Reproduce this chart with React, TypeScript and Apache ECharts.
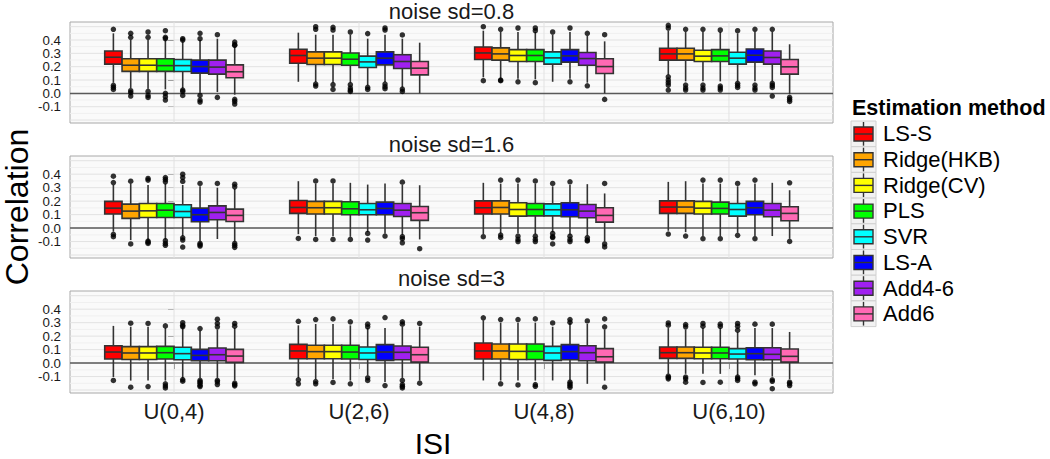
import React, { useEffect, useRef } from "react";
import * as echarts from "echarts";

const methods = ["LS-S", "Ridge(HKB)", "Ridge(CV)", "PLS", "SVR", "LS-A", "Add4-6", "Add6"];
const methodColors = ["#FF0000", "#FFA500", "#FFFF00", "#00FF00", "#00FFFF", "#0000FF", "#A020F0", "#FF69B4"];
const isiCategories = ["U(0,4)", "U(2,6)", "U(4,8)", "U(6,10)"];
const panelTitles = ["noise sd=0.8", "noise sd=1.6", "noise sd=3"];
const yTicks = [-0.1, 0, 0.1, 0.2, 0.3, 0.4];
const yGridMajor = [-0.2, -0.1, 0, 0.1, 0.2, 0.3, 0.4, 0.5];
const yGridMinor = [-0.15, -0.05, 0.05, 0.15, 0.25, 0.35, 0.45];

// [low whisker, q1, median, q3, high whisker], category-major, method-minor
const sd08Box = [
  [0.08, 0.219, 0.271, 0.318, 0.45], [0.04, 0.165, 0.211, 0.259, 0.40], [0.035, 0.165, 0.211, 0.259, 0.40], [0.03, 0.165, 0.208, 0.259, 0.40],
  [0.04, 0.164, 0.208, 0.254, 0.39], [0.005, 0.152, 0.201, 0.249, 0.40], [0.01, 0.144, 0.197, 0.249, 0.41], [-0.01, 0.117, 0.162, 0.214, 0.35],
  [0.087, 0.226, 0.284, 0.331, 0.455], [0.085, 0.216, 0.264, 0.311, 0.44], [0.08, 0.216, 0.264, 0.311, 0.44], [0.08, 0.211, 0.256, 0.303, 0.44],
  [0.06, 0.194, 0.236, 0.279, 0.41], [0.085, 0.214, 0.264, 0.311, 0.44], [0.045, 0.187, 0.239, 0.289, 0.41], [0.0, 0.139, 0.189, 0.239, 0.38],
  [0.12, 0.254, 0.303, 0.348, 0.47], [0.115, 0.249, 0.296, 0.341, 0.46], [0.11, 0.239, 0.284, 0.328, 0.46], [0.105, 0.239, 0.284, 0.328, 0.46],
  [0.087, 0.219, 0.266, 0.311, 0.44], [0.11, 0.234, 0.281, 0.328, 0.46], [0.08, 0.211, 0.261, 0.306, 0.43], [0.0, 0.149, 0.201, 0.259, 0.39],
  [0.14, 0.249, 0.296, 0.338, 0.47], [0.09, 0.249, 0.296, 0.338, 0.46], [0.09, 0.239, 0.279, 0.323, 0.46], [0.09, 0.239, 0.281, 0.328, 0.46],
  [0.09, 0.219, 0.264, 0.308, 0.45], [0.09, 0.234, 0.286, 0.333, 0.46], [0.09, 0.219, 0.269, 0.318, 0.46], [-0.005, 0.144, 0.199, 0.254, 0.368],
];
const sd08Out = [
  [0.48, 0.06, 0.045, 0.03], [0.45, 0.42, 0.02, 0.005, -0.02], [0.46, 0.42, 0.015, -0.015, -0.03], [0.47, 0.42, 0.41, 0.0, -0.025, -0.05],
  [0.41, 0.40, 0.025, 0.015, -0.015], [0.45, 0.41, -0.015, -0.05, -0.065], [0.44, -0.03], [0.385, 0.365, 0.36, -0.045, -0.06, -0.08],
  [], [0.5, 0.48, 0.07, 0.055], [0.495, 0.475, 0.065, 0.03], [0.46, 0.065, 0.04, 0.025, 0.015],
  [0.448, 0.045, 0.03], [0.49, 0.475, 0.07, 0.05, 0.035], [0.438, 0.032, 0.015], [],
  [0.5, 0.095], [0.48, 0.1, 0.095], [0.49, 0.087], [0.49, 0.47, 0.08],
  [0.46], [0.49, 0.087], [0.45, 0.057], [0.44, -0.045],
  [0.51, 0.49, 0.124, 0.1, 0.08, 0.062, 0.025], [0.48, 0.062, 0.04, 0.025], [0.48, 0.062, 0.04, 0.025], [0.475, 0.055, 0.04, 0.025],
  [0.47, 0.075, 0.06, 0.045], [0.48, 0.062, 0.04, 0.025], [0.48, 0.075, 0.06, 0.045, -0.02], [-0.03, -0.045, -0.06],
];

const sd16Box = [
  [-0.027, 0.104, 0.148, 0.198, 0.32], [-0.089, 0.072, 0.126, 0.178, 0.33], [-0.09, 0.079, 0.128, 0.183, 0.32], [-0.085, 0.079, 0.133, 0.183, 0.33],
  [-0.06, 0.079, 0.123, 0.173, 0.32], [-0.1, 0.047, 0.099, 0.148, 0.31], [-0.081, 0.062, 0.116, 0.165, 0.30], [-0.1, 0.049, 0.094, 0.141, 0.29],
  [-0.045, 0.109, 0.153, 0.205, 0.348], [-0.06, 0.104, 0.151, 0.198, 0.33], [-0.06, 0.104, 0.151, 0.198, 0.33], [-0.065, 0.099, 0.143, 0.195, 0.336],
  [-0.03, 0.099, 0.136, 0.183, 0.323], [-0.04, 0.099, 0.146, 0.193, 0.33], [-0.05, 0.086, 0.133, 0.183, 0.32], [-0.084, 0.057, 0.114, 0.16, 0.318],
  [-0.045, 0.104, 0.151, 0.202, 0.336], [-0.04, 0.104, 0.153, 0.202, 0.33], [-0.04, 0.089, 0.138, 0.188, 0.33], [-0.045, 0.091, 0.138, 0.183, 0.33],
  [-0.03, 0.091, 0.136, 0.18, 0.31], [-0.05, 0.084, 0.136, 0.188, 0.32], [-0.055, 0.077, 0.126, 0.175, 0.326], [-0.1, 0.044, 0.094, 0.151, 0.257],
  [-0.02, 0.109, 0.156, 0.202, 0.343], [-0.03, 0.109, 0.156, 0.202, 0.348], [-0.06, 0.104, 0.148, 0.198, 0.33], [-0.06, 0.104, 0.146, 0.193, 0.33],
  [-0.035, 0.089, 0.138, 0.183, 0.31], [-0.06, 0.099, 0.151, 0.198, 0.33], [-0.059, 0.084, 0.133, 0.183, 0.336], [-0.08, 0.054, 0.109, 0.158, 0.281],
];
const sd16Out = [
  [0.385, 0.338, -0.047, -0.064], [0.348, -0.118], [0.368, 0.356, -0.096, -0.105, -0.114], [0.375, 0.36, 0.343, -0.094, -0.114, -0.128],
  [0.4, 0.375, 0.346, -0.072, -0.089, -0.141], [0.331, -0.114, -0.124, -0.133], [0.331], [0.326, 0.306, -0.114, -0.128, -0.143],
  [-0.077], [0.35, -0.084], [0.35, -0.084], [-0.084],
  [-0.04, -0.089], [-0.059], [0.341, -0.064, -0.079, -0.109], [-0.153],
  [-0.064], [0.356, -0.052, -0.069], [0.356, -0.06, -0.084, -0.1], [0.35, -0.06, -0.084, -0.1],
  [0.331, -0.04, -0.064, -0.07, -0.118], [0.343, -0.06, -0.084, -0.1], [-0.07, -0.089, -0.095], [0.331, -0.118, -0.14],
  [-0.044], [-0.059], [0.356, -0.079], [0.356, -0.079],
  [0.331, -0.054], [0.356, -0.079], [], [0.336, -0.099],
];

const sd3Box = [
  [-0.104, 0.03, 0.082, 0.129, 0.276], [-0.13, 0.027, 0.075, 0.122, 0.27], [-0.13, 0.027, 0.075, 0.122, 0.27], [-0.13, 0.03, 0.077, 0.124, 0.26],
  [-0.11, 0.025, 0.07, 0.117, 0.26], [-0.11, 0.017, 0.057, 0.102, 0.24], [-0.11, 0.017, 0.062, 0.112, 0.25], [-0.13, 0.005, 0.052, 0.102, 0.26],
  [-0.11, 0.032, 0.09, 0.139, 0.28], [-0.12, 0.032, 0.085, 0.132, 0.29], [-0.12, 0.032, 0.085, 0.132, 0.29], [-0.13, 0.03, 0.082, 0.132, 0.28],
  [-0.09, 0.027, 0.075, 0.119, 0.26], [-0.14, 0.02, 0.082, 0.137, 0.26], [-0.11, 0.025, 0.08, 0.127, 0.27], [-0.13, 0.007, 0.062, 0.117, 0.27],
  [-0.129, 0.03, 0.09, 0.149, 0.318], [-0.13, 0.03, 0.09, 0.142, 0.3], [-0.13, 0.027, 0.087, 0.142, 0.3], [-0.13, 0.027, 0.087, 0.142, 0.3],
  [-0.129, 0.02, 0.075, 0.124, 0.27], [-0.13, 0.025, 0.085, 0.137, 0.3], [-0.154, 0.017, 0.077, 0.129, 0.29], [-0.13, 0.007, 0.047, 0.107, 0.25],
  [-0.08, 0.035, 0.077, 0.119, 0.26], [-0.08, 0.035, 0.077, 0.119, 0.25], [-0.08, 0.032, 0.075, 0.117, 0.26], [-0.08, 0.032, 0.075, 0.117, 0.26],
  [-0.09, 0.03, 0.067, 0.107, 0.23], [-0.09, 0.025, 0.07, 0.114, 0.26], [-0.1, 0.025, 0.065, 0.114, 0.26], [-0.12, 0.007, 0.05, 0.104, 0.231],
];
const sd3Out = [
  [-0.129], [0.296, -0.179], [0.294, -0.174], [0.276, -0.154, -0.17, -0.184],
  [0.3, 0.28, 0.27, -0.122, -0.134], [0.256, -0.129, -0.14, -0.149, -0.165, -0.174], [0.326, 0.294, 0.269, -0.129, -0.14, -0.159], [0.294, 0.274, -0.149, -0.16, -0.169],
  [0.31, -0.124, -0.154], [0.323, -0.137, -0.154], [0.328, -0.144], [0.306, -0.154],
  [0.289, 0.269, -0.109, -0.129], [0.338, -0.167], [0.306, 0.289, -0.129, -0.159, -0.172, -0.184], [0.294, -0.149],
  [0.336], [0.323, -0.154], [0.323, -0.162], [0.328, -0.16, -0.172],
  [0.298], [0.323, 0.303, -0.142, -0.155, -0.167, -0.18], [0.313], [0.328, 0.269, -0.179],
  [0.298, 0.281, -0.097, -0.107, -0.117], [0.286, 0.269, -0.104, -0.117, -0.142], [0.294, 0.274, -0.144], [0.289, 0.272, -0.142],
  [0.294, 0.274, 0.244, -0.104, -0.115, -0.129], [0.289, -0.142, -0.154], [0.289, -0.124, -0.135, -0.19], [-0.142, -0.152, -0.167],
];

const panelBoxes = [sd08Box, sd16Box, sd3Box];
const panelOutliers = [sd08Out, sd16Out, sd3Out];

const FONT = "Liberation Sans, Arial, sans-serif";
const BOX_W = 0.0937;
const X_MIN = -0.5625;
const X_MAX = 3.5625;
const Y_MIN = -0.222;
const Y_MAX = 0.535;
const GRID_TOPS = [22, 156, 291];
const GRID_HEIGHTS = [101, 102, 102];
const GRID_LEFT = 70;
const GRID_WIDTH = 763;
const STRIP_Y = [11.5, 144, 278];

function textEl(text: string, x: number, y: number, fontSize: number, align: string, extra: any = {}, styleExtra: any = {}) {
  return {
    type: "text",
    x,
    y,
    ...extra,
    style: {
      text,
      x: 0,
      y: 0,
      fill: "#1a1a1a",
      fontSize,
      fontFamily: FONT,
      align,
      verticalAlign: "middle",
      textAlign: align,
      textVerticalAlign: "middle",
      ...styleExtra,
    },
  };
}

function buildOption() {
  const grids: any[] = [];
  const xAxes: any[] = [];
  const yAxes: any[] = [];
  const series: any[] = [];

  for (let p = 0; p < 3; p++) {
    const isBottom = p === 2;
    grids.push({
      left: GRID_LEFT,
      top: GRID_TOPS[p],
      width: GRID_WIDTH,
      height: GRID_HEIGHTS[p],
      show: true,
      backgroundColor: "#fafafa",
      borderColor: "#a8a8a8",
      borderWidth: 1,
    });
    xAxes.push({
      gridIndex: p,
      type: "value",
      min: X_MIN,
      max: X_MAX,
      axisLine: { show: false },
      splitLine: { show: false },
      axisTick: {
        show: isBottom,
        customValues: [0, 1, 2, 3],
        length: 6,
        lineStyle: { color: "#555", width: 1 },
      },
      axisLabel: {
        show: isBottom,
        customValues: [0, 1, 2, 3],
        formatter: (v: number) => isiCategories[Math.round(v)] ?? "",
        fontSize: 22,
        fontFamily: FONT,
        color: "#1a1a1a",
        margin: 7,
        hideOverlap: false,
      },
    });
    yAxes.push({
      gridIndex: p,
      type: "value",
      min: Y_MIN,
      max: Y_MAX,
      axisLine: { show: false },
      splitLine: { show: false },
      axisTick: {
        show: true,
        customValues: yTicks,
        length: 6,
        lineStyle: { color: "#555", width: 1 },
      },
      axisLabel: { show: false },
    });

    // grid lines
    const hData: any[] = [];
    yGridMinor.forEach((v) => hData.push([0, v, 0]));
    yGridMajor.forEach((v) => hData.push([0, v, 1]));
    series.push({
      type: "custom",
      xAxisIndex: p,
      yAxisIndex: p,
      z: 1,
      silent: true,
      data: hData,
      renderItem: (params: any, api: any) => {
        const cs = params.coordSys;
        const pt = api.coord([0, api.value(1)]);
        const major = api.value(2) === 1;
        return {
          type: "line",
          shape: { x1: cs.x, y1: pt[1], x2: cs.x + cs.width, y2: pt[1] },
          style: { stroke: major ? "#e2e2e2" : "#f0f0f0", lineWidth: 1 },
        };
      },
    });
    series.push({
      type: "custom",
      xAxisIndex: p,
      yAxisIndex: p,
      z: 1,
      silent: true,
      data: isiCategories.map((_, i) => [i, 0]),
      renderItem: (params: any, api: any) => {
        const cs = params.coordSys;
        const pt = api.coord([api.value(0), 0]);
        return {
          type: "line",
          shape: { x1: pt[0], y1: cs.y, x2: pt[0], y2: cs.y + cs.height },
          style: { stroke: "#e2e2e2", lineWidth: 1 },
        };
      },
    });
    // zero reference line
    series.push({
      type: "custom",
      xAxisIndex: p,
      yAxisIndex: p,
      z: 2,
      silent: true,
      data: [[0, 0]],
      renderItem: (params: any, api: any) => {
        const cs = params.coordSys;
        const pt = api.coord([0, api.value(1)]);
        return {
          type: "line",
          shape: { x1: cs.x, y1: pt[1], x2: cs.x + cs.width, y2: pt[1] },
          style: { stroke: "#5a5a5a", lineWidth: 1.5 },
        };
      },
    });

    const boxes = panelBoxes[p];
    const outs = panelOutliers[p];
    const boxData: any[] = [];
    const outData: any[] = [];
    for (let c = 0; c < isiCategories.length; c++) {
      for (let m = 0; m < methods.length; m++) {
        const idx = c * methods.length + m;
        const x = c + (m - 3.5) * BOX_W;
        const b = boxes[idx];
        boxData.push([x, b[0], b[1], b[2], b[3], b[4], m]);
        outs[idx].forEach((v) => outData.push([x, v]));
      }
    }
    series.push({
      type: "custom",
      name: "box" + p,
      xAxisIndex: p,
      yAxisIndex: p,
      z: 3,
      silent: true,
      encode: { x: 0, y: [1, 2, 3, 4, 5] },
      data: boxData,
      renderItem: (params: any, api: any) => {
        const x = api.value(0);
        const low = api.value(1);
        const q1 = api.value(2);
        const med = api.value(3);
        const q3 = api.value(4);
        const high = api.value(5);
        const m = api.value(6);
        const tl = api.coord([x - BOX_W / 2, q3]);
        const br = api.coord([x + BOX_W / 2, q1]);
        const pm = api.coord([x, med]);
        const pl = api.coord([x, low]);
        const ph = api.coord([x, high]);
        const stroke = "#333333";
        return {
          type: "group",
          children: [
            { type: "line", shape: { x1: pm[0], y1: ph[1], x2: pm[0], y2: tl[1] }, style: { stroke, lineWidth: 1.6 } },
            { type: "line", shape: { x1: pm[0], y1: br[1], x2: pm[0], y2: pl[1] }, style: { stroke, lineWidth: 1.6 } },
            {
              type: "rect",
              shape: { x: tl[0], y: tl[1], width: br[0] - tl[0], height: br[1] - tl[1] },
              style: { fill: methodColors[m], stroke, lineWidth: 1.6 },
            },
            { type: "line", shape: { x1: tl[0], y1: pm[1], x2: br[0], y2: pm[1] }, style: { stroke, lineWidth: 1.6 } },
          ],
        };
      },
    });
    series.push({
      type: "scatter",
      xAxisIndex: p,
      yAxisIndex: p,
      z: 4,
      silent: true,
      symbol: "circle",
      symbolSize: 5.5,
      itemStyle: { color: "#000" },
      data: outData,
    });
  }

  return {
    animation: false,
    backgroundColor: "#ffffff",
    textStyle: { fontFamily: FONT },
    grid: grids,
    xAxis: xAxes,
    yAxis: yAxes,
    series,
  };
}

function buildGraphics(chart: any) {
  const graphics: any[] = [];
  for (let p = 0; p < 3; p++) {
    graphics.push(textEl(panelTitles[p], GRID_LEFT + GRID_WIDTH / 2, STRIP_Y[p], 22, "center", {}, { lineHeight: 22 }));
    // y tick labels placed through the y axis scale
    yTicks.forEach((v) => {
      const py = chart.convertToPixel({ yAxisIndex: p }, v);
      graphics.push(textEl(v.toFixed(1), GRID_LEFT - 9, py, 13.3, "right", {}, { lineHeight: 12 }));
    });
  }

  // axis titles
  graphics.push(textEl("Correlation", 17, 207, 32, "center", { rotation: Math.PI / 2 }, { fill: "#000" }));
  graphics.push(textEl("ISI", 433, 443, 30, "center", {}, { fill: "#000" }));

  // legend
  const LEG_X = 851;
  const LEG_Y = 121;
  const ROW = 25.7;
  graphics.push(textEl("Estimation method", 852, 108, 21.5, "left", {}, { fill: "#000", fontWeight: "bold" }));
  methods.forEach((name, i) => {
    const y0 = LEG_Y + i * ROW;
    graphics.push({
      type: "group",
      children: [
        { type: "rect", shape: { x: LEG_X, y: y0, width: 25, height: ROW }, style: { fill: "#f2f2f2", stroke: "#d0d0d0", lineWidth: 1 } },
        { type: "line", shape: { x1: LEG_X + 12.5, y1: y0 + 1, x2: LEG_X + 12.5, y2: y0 + ROW - 1 }, style: { stroke: "#333", lineWidth: 1.4 } },
        { type: "rect", shape: { x: LEG_X + 3, y: y0 + 6, width: 19, height: 14 }, style: { fill: methodColors[i], stroke: "#333", lineWidth: 1.4 } },
        { type: "line", shape: { x1: LEG_X + 3, y1: y0 + 13, x2: LEG_X + 22, y2: y0 + 13 }, style: { stroke: "#333", lineWidth: 1.4 } },
        textEl(name, 883, y0 + ROW / 2, 22, "left", {}, { fill: "#000" }),
      ],
    });
  });
  return graphics;
}

export default function App() {
  const ref = useRef<HTMLDivElement>(null);
  useEffect(() => {
    document.body.style.margin = "0";
    if (!ref.current) return;
    const chart = echarts.init(ref.current, undefined, { renderer: "svg" });
    chart.setOption(buildOption() as any);
    chart.setOption({ graphic: { elements: buildGraphics(chart) } } as any);
    return () => chart.dispose();
  }, []);
  return <div ref={ref} style={{ width: 1050, height: 459 }} />;
}
